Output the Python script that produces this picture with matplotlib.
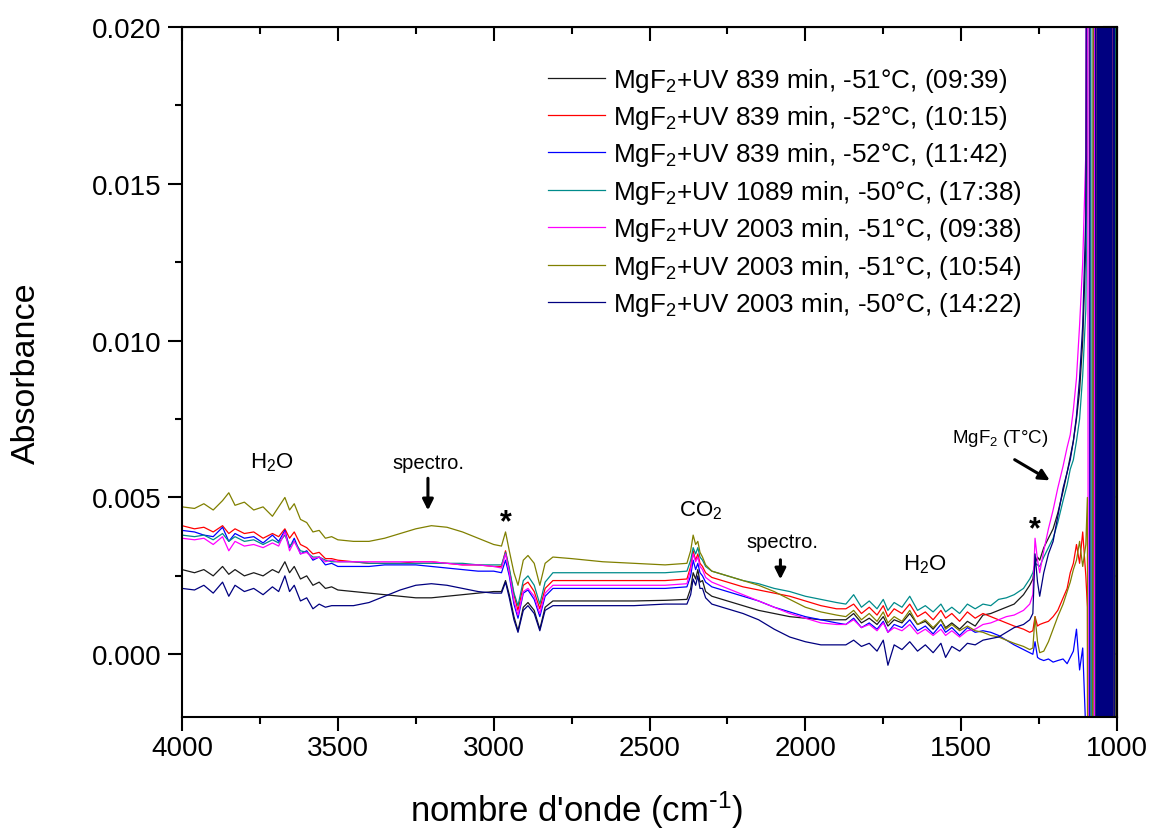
import numpy as np
import matplotlib.pyplot as plt
from matplotlib.ticker import MultipleLocator, FormatStrFormatter, NullFormatter

plt.rcParams['font.family'] = ['Liberation Sans', 'DejaVu Sans']
plt.rcParams['mathtext.default'] = 'regular'

# nombre d'onde (cm-1), grille commune a tous les spectres
wn = [4000, 3960, 3930, 3900, 3870, 3850, 3830, 3800, 3770, 3740, 3710, 3690, 3670, 3655, 3640, 3620, 3600, 3580, 3560, 3540, 3520, 3500,
      3450, 3400, 3350, 3300, 3250, 3200, 3150, 3100, 3050, 3000,
      2975, 2962, 2950, 2935, 2922, 2905, 2890, 2870, 2852, 2835, 2810, 2750,
      2650, 2550, 2450, 2380,
      2368, 2360, 2352, 2345, 2338, 2330, 2320, 2300,
      2250, 2200, 2150, 2100, 2050, 2000, 1950, 1900,
      1870, 1845, 1820, 1795, 1770, 1750, 1735, 1715, 1690, 1665, 1640, 1615, 1590, 1565, 1550, 1530, 1505, 1480, 1455, 1430, 1405, 1380, 1355,
      1330, 1300, 1280, 1270, 1263, 1255, 1248, 1235, 1220, 1205, 1190, 1173, 1160, 1150, 1140, 1130, 1120, 1110, 1100]
# zone saturee (MgF2 opaque)
tail_wn = [1095, 1090, 1085, 1080, 1075, 1070, 1065,
           1062.5, 1060, 1057.5, 1055, 1052.5, 1050, 1047.5, 1045, 1042.5, 1040,
           1037.5, 1035, 1032.5, 1030, 1027.5, 1025, 1022.5, 1020, 1017.5, 1015,
           1010, 1005, 1000]

labels = ["MgF$_2$+UV 839 min, -51°C, (09:39)",
          "MgF$_2$+UV 839 min, -52°C, (10:15)",
          "MgF$_2$+UV 839 min, -52°C, (11:42)",
          "MgF$_2$+UV 1089 min, -50°C, (17:38)",
          "MgF$_2$+UV 2003 min, -51°C, (09:38)",
          "MgF$_2$+UV 2003 min, -51°C, (10:54)",
          "MgF$_2$+UV 2003 min, -50°C, (14:22)"]
colors = ["#1a1a1a", "#ff0000", "#0000ff", "#008b8b", "#ff00ff", "#808000", "#000080"]

# absorbances en 1e-3
a_0939 = [2.7, 2.6, 2.7, 2.5, 2.8, 2.55, 2.7, 2.5, 2.6, 2.5, 2.7, 2.6, 2.95, 2.6, 2.8, 2.4, 2.5, 2.2, 2.3, 2.1, 2.15, 2.05,
          2.0, 1.95, 1.9, 1.85, 1.8, 1.8, 1.85, 1.9, 1.95, 2.0,
          2.0, 2.35, 1.9, 1.2, 0.75, 1.5, 1.65, 1.4, 0.8, 1.5, 1.7, 1.7,
          1.7, 1.7, 1.72, 1.75,
          2.1, 2.6, 2.4, 2.7, 2.3, 2.35, 2.0, 1.85,
          1.7, 1.55, 1.4, 1.3, 1.2, 1.15, 1.1, 1.1,
          1.1, 1.3, 1.0, 1.15, 0.95, 1.2, 0.9, 1.1, 1.0, 1.3, 0.95, 1.05, 0.8, 1.1, 0.85, 1.0, 0.8, 1.05, 0.9, 1.25, 1.3, 1.4, 1.5,
          1.6, 1.9, 2.2, 2.4, 2.9, 3.1, 3.0, 3.4, 3.7, 4.0, 4.5, 5.2, 5.8, 6.3, 6.8, 7.5, 8.4, 10.0, 13.0]
a_1015 = [4.1, 4.0, 4.05, 3.9, 4.1, 3.85, 4.0, 3.85, 3.9, 3.7, 3.85, 3.75, 4.0, 3.7, 3.9, 3.5, 3.4, 3.2, 3.25, 3.05, 3.05, 3.0,
          2.95, 2.9, 2.9, 2.9, 2.95, 2.95, 2.9, 2.85, 2.85, 2.8,
          2.8, 3.3, 2.7, 1.9, 1.4, 2.2, 2.3, 2.0, 1.45, 2.1, 2.35, 2.35,
          2.35, 2.35, 2.35, 2.4,
          2.8, 3.3, 3.0, 3.2, 2.9, 2.8, 2.6, 2.45,
          2.3, 2.15, 2.05, 1.95, 1.85, 1.7, 1.55, 1.45,
          1.45, 1.6, 1.3, 1.5, 1.25, 1.55, 1.2, 1.45, 1.3, 1.6, 1.2, 1.35, 1.1, 1.4, 1.15, 1.3, 1.05, 1.35, 1.15, 1.3, 1.2, 1.1, 1.0,
          0.9, 0.8, 0.7, 0.75, 1.2, 0.9, 0.95, 1.0, 1.05, 1.2, 1.4, 1.8, 2.1, 2.6, 2.9, 3.5, 2.9, 3.9, 2.5]
a_1142 = [3.95, 3.9, 3.8, 3.75, 4.05, 3.6, 3.85, 3.7, 3.75, 3.55, 3.8, 3.6, 3.95, 3.4, 3.7, 3.2, 3.3, 3.0, 3.1, 2.85, 2.9, 2.8,
          2.8, 2.8, 2.85, 2.85, 2.85, 2.8, 2.75, 2.7, 2.65, 2.65,
          2.6, 3.0, 2.5, 1.6, 1.15, 1.95, 2.05, 1.75, 1.2, 1.85, 2.1, 2.1,
          2.1, 2.1, 2.1, 2.15,
          2.5, 3.0, 2.7, 2.9, 2.6, 2.5, 2.3, 2.15,
          2.0, 1.85, 1.7, 1.5, 1.35, 1.2, 1.1, 1.0,
          0.95, 1.15, 0.85, 1.0, 0.8, 1.05, 0.7, 0.95, 0.85, 1.1, 0.75, 0.9, 0.65, 0.95, 0.7, 0.85, 0.6, 0.85, 0.7, 0.75, 0.7, 0.6, 0.45,
          0.3, 0.15, 0.05, 0.0, 0.4, -0.1, -0.15, -0.2, -0.15, -0.25, -0.2, -0.15, -0.3, -0.1, 0.1, 0.8, -0.5, 0.2, -2.5]
a_1738 = [3.8, 3.75, 3.8, 3.65, 3.85, 3.6, 3.75, 3.6, 3.65, 3.5, 3.65, 3.55, 3.8, 3.45, 3.6, 3.3, 3.25, 3.1, 3.1, 3.0, 2.95, 2.95,
          2.95, 2.9, 2.9, 2.9, 2.9, 2.9, 2.9, 2.9, 2.85, 2.85,
          2.85, 3.25, 2.75, 1.95, 1.55, 2.35, 2.5, 2.2, 1.6, 2.3, 2.6, 2.6,
          2.6, 2.6, 2.6, 2.65,
          3.0, 3.4, 3.2, 3.4, 3.1, 3.0, 2.8, 2.65,
          2.5, 2.35, 2.25, 2.1, 2.0, 1.85, 1.75, 1.65,
          1.6, 1.9, 1.5, 1.7, 1.45, 1.75, 1.4, 1.65, 1.5, 1.85, 1.4, 1.55, 1.35, 1.6, 1.35, 1.5, 1.3, 1.6, 1.45, 1.6, 1.55, 1.75, 1.8,
          1.9, 2.1, 2.4, 2.6, 2.9, 2.85, 2.8, 3.1, 3.4, 3.7, 4.2, 4.9, 5.4, 5.9, 6.2, 6.8, 7.5, 8.9, 11.0]
a_0938 = [3.7, 3.65, 3.7, 3.5, 3.75, 3.3, 3.6, 3.45, 3.5, 3.4, 3.55, 3.45, 3.9, 3.3, 3.6, 3.2, 3.25, 3.05, 3.1, 2.95, 3.0, 2.95,
          2.95, 2.95, 2.95, 2.95, 2.95, 2.95, 2.9, 2.85, 2.85, 2.8,
          2.75, 3.2, 2.6, 1.7, 1.25, 2.0, 2.1, 1.85, 1.3, 1.95, 2.2, 2.2,
          2.2, 2.2, 2.2, 2.25,
          2.7, 3.2, 2.95, 3.1, 2.8, 2.7, 2.45, 2.3,
          2.1, 1.9, 1.7, 1.5, 1.3, 1.15, 1.0, 0.95,
          0.95, 1.1, 0.85, 0.95, 0.75, 1.0, 0.7, 0.85, 0.75, 0.95, 0.65, 0.8, 0.6, 0.8, 0.6, 0.75, 0.55, 0.75, 0.8, 0.95, 1.0, 1.1, 1.2,
          1.25, 1.4, 1.6, 1.9, 3.7, 3.0, 2.6, 3.3, 4.0, 4.6, 5.3, 6.0, 6.6, 7.0, 7.8, 8.8, 10.5, 12.5, 16.0]
a_1054 = [4.7, 4.65, 4.8, 4.6, 4.9, 5.15, 4.75, 4.85, 4.6, 4.7, 4.4, 4.7, 5.0, 4.6, 4.8, 4.3, 4.2, 3.9, 3.95, 3.7, 3.75, 3.65,
          3.6, 3.6, 3.7, 3.85, 4.0, 4.1, 4.05, 3.9, 3.7, 3.5,
          3.45, 3.9, 3.3, 2.6, 2.2, 3.0, 3.15, 2.9, 2.2, 2.9, 3.1, 3.05,
          2.95, 2.9, 2.85, 2.9,
          3.3, 3.8, 3.5, 3.6, 3.25, 3.1, 2.85, 2.65,
          2.5, 2.35, 2.2, 2.0, 1.75, 1.5, 1.35, 1.25,
          1.2, 1.4, 1.1, 1.3, 1.05, 1.35, 1.0, 1.2, 1.05, 1.4, 0.95, 1.1, 0.85, 1.1, 0.8, 0.95, 0.75, 0.9, 0.75, 0.7, 0.6, 0.55, 0.45,
          0.35, 0.25, 0.15, 0.2, 1.2, 0.4, 0.05, 0.1, 0.4, 0.8, 1.2, 1.6, 2.0, 2.3, 2.7, 3.0, 3.6, 2.8, 3.5]
a_1422 = [2.1, 2.05, 2.2, 1.95, 2.3, 1.85, 2.2, 2.0, 2.1, 1.9, 2.15, 2.0, 2.5, 2.0, 2.2, 1.7, 1.8, 1.45, 1.6, 1.5, 1.55, 1.55,
          1.55, 1.65, 1.85, 2.05, 2.2, 2.25, 2.2, 2.1, 2.0, 1.95,
          1.95, 2.3, 1.8, 1.1, 0.7, 1.4, 1.55, 1.3, 0.75, 1.4, 1.55, 1.55,
          1.55, 1.55, 1.6, 1.6,
          1.9, 2.4, 2.2, 2.5, 2.1, 2.1, 1.8, 1.6,
          1.45, 1.3, 1.1, 0.8, 0.55, 0.4, 0.3, 0.3,
          0.3, 0.45, 0.25, 0.35, 0.1, 0.45, -0.35, 0.3, 0.15, 0.4, 0.1, 0.3, 0.05, 0.35, -0.1, 0.25, 0.1, 0.35, 0.3, 0.45, 0.5, 0.55, 0.7,
          0.85, 0.95, 1.1, 1.3, 3.2, 2.3, 1.85, 2.6, 3.2, 3.6, 4.4, 5.3, 5.8, 6.2, 6.8, 7.6, 8.8, 10.5, 14.0]

# hors echelle apres 1100 cm-1
t_0939 = [22, 40, -40, -40, 40, 40, 40,
          -40, 40, -40, 40, -40, 40, -40, 40, -40, 40, -40, 40, -40, 40, -40, 40, -40, 40, -40, 40,
          -40, 40, -40]
t_1015 = [1.5, -40, 40, 40, 40, 40, 40,
          -40, 40, -40, 40, -40, 40, -40, 40, -40, 40, -40, 40, -40, 40, -40, 40, -40, 40, -40, 40,
          40, 40, 40]
t_1142 = [-40, -40, 40, 40, 40, -40, -40,
          40, -40, 40, -40, 40, -40, 40, -40, 40, -40, 40, -40, 40, -40, 40, -40, 40, -40, 40, -40,
          40, 40, 40]
t_1738 = [16, 40, 40, -40, -40, -40, 40,
          -40, 40, -40, 40, -40, 40, -40, 40, -40, 40, -40, 40, -40, 40, -40, 40, -40, 40, -40, 40,
          -40, 40, 40]
t_0938 = [40, -40, -40, -40, -40, 40, 40,
          -40, 40, -40, 40, -40, 40, -40, 40, -40, 40, -40, 40, -40, 40, -40, 40, -40, 40, -40, 40,
          -40, -40, -40]
t_1054 = [5, -40, -40, -40, 40, 40, -40,
          40, -40, 40, -40, 40, -40, 40, -40, 40, -40, 40, -40, 40, -40, 40, -40, 40, -40, 40, -40,
          40, -40, 40]
t_1422 = [40, 40, 40, 40, 40, 40, -40,
          40, -40, 40, -40, 40, -40, 40, -40, 40, -40, 40, -40, 40, -40, 40, -40, 40, -40, 40, -40,
          40, -40, -40]

spectres = [a_0939, a_1015, a_1142, a_1738, a_0938, a_1054, a_1422]
queues = [t_0939, t_1015, t_1142, t_1738, t_0938, t_1054, t_1422]

fig = plt.figure(figsize=(11.5, 8.29), dpi=100)
ax = fig.add_axes([0.1583, 0.1339, 0.8130, 0.8323])

x = np.array(wn + tail_wn)
for y, t, c, lab in zip(spectres, queues, colors, labels):
    ax.plot(x, np.array(y + t) / 1000, color=c, lw=0.9, label=lab)

ax.set_xlim(4000, 1000)
ax.set_ylim(-0.002, 0.020)
ax.xaxis.set_major_locator(MultipleLocator(500))
ax.xaxis.set_minor_locator(MultipleLocator(250))
ax.yaxis.set_major_locator(MultipleLocator(0.005))
ax.yaxis.set_minor_locator(MultipleLocator(0.0025))
ax.yaxis.set_major_formatter(FormatStrFormatter('%.3f'))
ax.tick_params(which='both', direction='out', width=1.5, labelsize=20)
ax.tick_params(which='major', length=10)
ax.tick_params(which='minor', length=5)
ax.tick_params(axis='x', pad=3)
ax.tick_params(axis='y', pad=5)
for s in ax.spines.values():
    s.set_linewidth(1.5)

# ticks interieurs en haut et a droite
secx = ax.secondary_xaxis('top')
secx.xaxis.set_major_locator(MultipleLocator(500))
secx.xaxis.set_minor_locator(MultipleLocator(250))
secx.xaxis.set_major_formatter(NullFormatter())
secx.tick_params(which='both', direction='in', width=1.5)
secx.tick_params(which='major', length=10)
secx.tick_params(which='minor', length=5)
secy = ax.secondary_yaxis('right')
secy.yaxis.set_major_locator(MultipleLocator(0.005))
secy.yaxis.set_minor_locator(MultipleLocator(0.0025))
secy.yaxis.set_major_formatter(NullFormatter())
secy.tick_params(which='both', direction='in', width=1.5)
secy.tick_params(which='major', length=10)
secy.tick_params(which='minor', length=5)

ax.set_xlabel("nombre d'onde (cm$^{\\text{-}1}$)", fontsize=25)
ax.xaxis.set_label_coords(0.4225, -0.103)
ax.set_ylabel("Absorbance", fontsize=24.5, labelpad=36)

ax.legend(loc='upper left', bbox_to_anchor=(0.391, 0.944), frameon=False, fontsize=18.8,
          handlelength=2.2, handletextpad=0.3, labelspacing=0.36, borderpad=0, borderaxespad=0)

# annotations
ax.text(3711, 0.00615, "H$_2$O", fontsize=16, ha='center', va='center')
ax.text(3211, 0.0061, "spectro.", fontsize=14.5, ha='center', va='center')
ax.annotate("", xy=(3211, 0.0045), xytext=(3211, 0.0057),
            arrowprops=dict(arrowstyle='-|>', color='k', lw=2.2, mutation_scale=16))
ax.text(2961, 0.0042, "*", fontsize=22, fontweight='bold', ha='center', va='center')
ax.text(2335, 0.0046, "CO$_2$", fontsize=16, ha='center', va='center')
ax.text(2075, 0.0036, "spectro.", fontsize=14.5, ha='center', va='center')
ax.annotate("", xy=(2080, 0.0023), xytext=(2080, 0.0031),
            arrowprops=dict(arrowstyle='-|>', color='k', lw=2.2, mutation_scale=16))
ax.text(1617, 0.0029, "H$_2$O", fontsize=16, ha='center', va='center')
ax.text(1264, 0.0040, "*", fontsize=22, fontweight='bold', ha='center', va='center')
ax.text(1376, 0.0069, "MgF$_2$ (T°C)", fontsize=13.5, ha='center', va='center')
ax.annotate("", xy=(1208, 0.0055), xytext=(1336, 0.00625),
            arrowprops=dict(arrowstyle='-|>', color='k', lw=2.2, mutation_scale=16))

fig.savefig("out.png", dpi=100)
